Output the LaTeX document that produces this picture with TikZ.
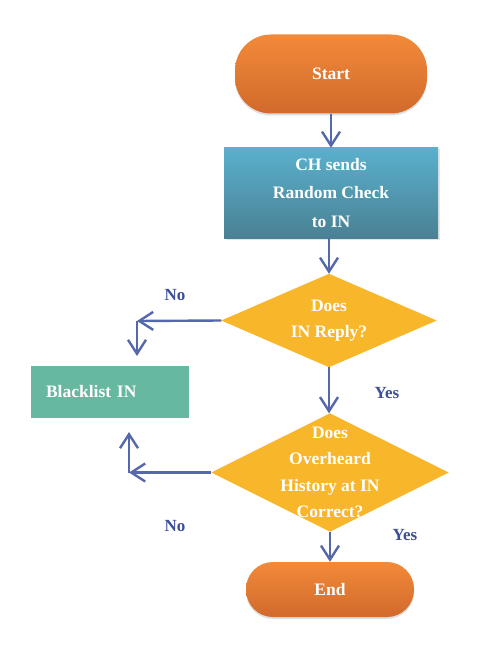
\documentclass[tikz,border=0pt]{standalone}
\usepackage{fontspec}
\setmainfont{Liberation Serif}
\usetikzlibrary{arrows.meta,backgrounds,shadows}
\definecolor{orangeT}{HTML}{F28A3A}
\definecolor{orangeB}{HTML}{D16A2B}
\definecolor{tealT}{HTML}{5AB0CD}
\definecolor{tealB}{HTML}{4A8194}
\definecolor{diafill}{HTML}{F8B62B}
\definecolor{blgreen}{HTML}{66B8A0}
\definecolor{arrcol}{HTML}{5668AC}
\definecolor{labcol}{HTML}{3D4E9B}
\begin{document}
\begin{tikzpicture}[x=1pt,y=-1pt,
  nodetext/.style={text=white, font=\bfseries\fontsize{17.5}{28.5}\selectfont, align=center, inner sep=0pt},
  terminal/.style={nodetext, top color=orangeT, bottom color=orangeB,
    drop shadow={shadow xshift=0pt, shadow yshift=-2pt, opacity=0.25}},
  procbox/.style={nodetext, top color=tealT, bottom color=tealB,
    drop shadow={shadow xshift=1.5pt, shadow yshift=-1.5pt, opacity=0.2}},
  decbox/.style={nodetext, font=\bfseries\fontsize{17.5}{26.5}\selectfont},
  blbox/.style={nodetext, fill=blgreen, align=left},
  conn/.style={draw=arrcol, line width=2.4pt, -{Straight Barb[length=14pt,width=18pt,line width=2.4pt]}},
  lbl/.style={text=labcol, font=\bfseries\fontsize{17}{19}\selectfont, inner sep=0pt}]
\useasboundingbox (0,0) rectangle (481,660);

\node[terminal, minimum width=192pt, minimum height=79pt, rounded corners=36pt] (start) at (331,74) {Start};
\node[procbox, minimum width=214pt, minimum height=90pt] (ch) at (331,193) {CH sends\\Random Check\\to IN};
\node[decbox, minimum width=215pt, minimum height=93pt] (d1) at (329,320.5) {Does\\IN Reply?};
\node[blbox, text width=128pt, inner xsep=15pt, minimum height=52pt] (bl) at (110,392) {Blacklist IN};
\node[decbox, minimum width=237pt, minimum height=118pt] (d2) at (330,472.5) {Does\\Overheard\\History at IN\\Correct?};
\node[terminal, minimum width=168pt, minimum height=55pt, rounded corners=27pt] (end) at (330,589.5) {End};

\coordinate (n1) at (137,321);
\coordinate (n1b) at (137,356);
\coordinate (n2) at (129,472.5);
\coordinate (n2b) at (129,432);

\begin{pgfonlayer}{background}
  \fill[white] (0,0) rectangle (481,660);
  \fill[diafill] (d1.north) -- (d1.east) -- (d1.south) -- (d1.west) -- cycle;
  \fill[diafill] (d2.north) -- (d2.east) -- (d2.south) -- (d2.west) -- cycle;
\end{pgfonlayer}

\draw[conn] (start.south) -- (ch.north);
\draw[conn] (ch.south -| d1.north) -- (d1.north);
\draw[conn] (d1.south) -- (d1.south |- d2.north);
\draw[conn] (d1.west) -- (n1);
\draw[conn] (n1) -- (n1b);
\draw[conn] (d2.west) -- (n2);
\draw[conn] (n2) -- (n2b);
\draw[conn] (d2.south) -- (end.north);

\node[lbl] (no1) at (175,295) {No};
\node[lbl] (yes1) at (387,393) {Yes};
\node[lbl] (no2) at (175,526) {No};
\node[lbl] (yes2) at (405,535) {Yes};
\end{tikzpicture}
\end{document}
